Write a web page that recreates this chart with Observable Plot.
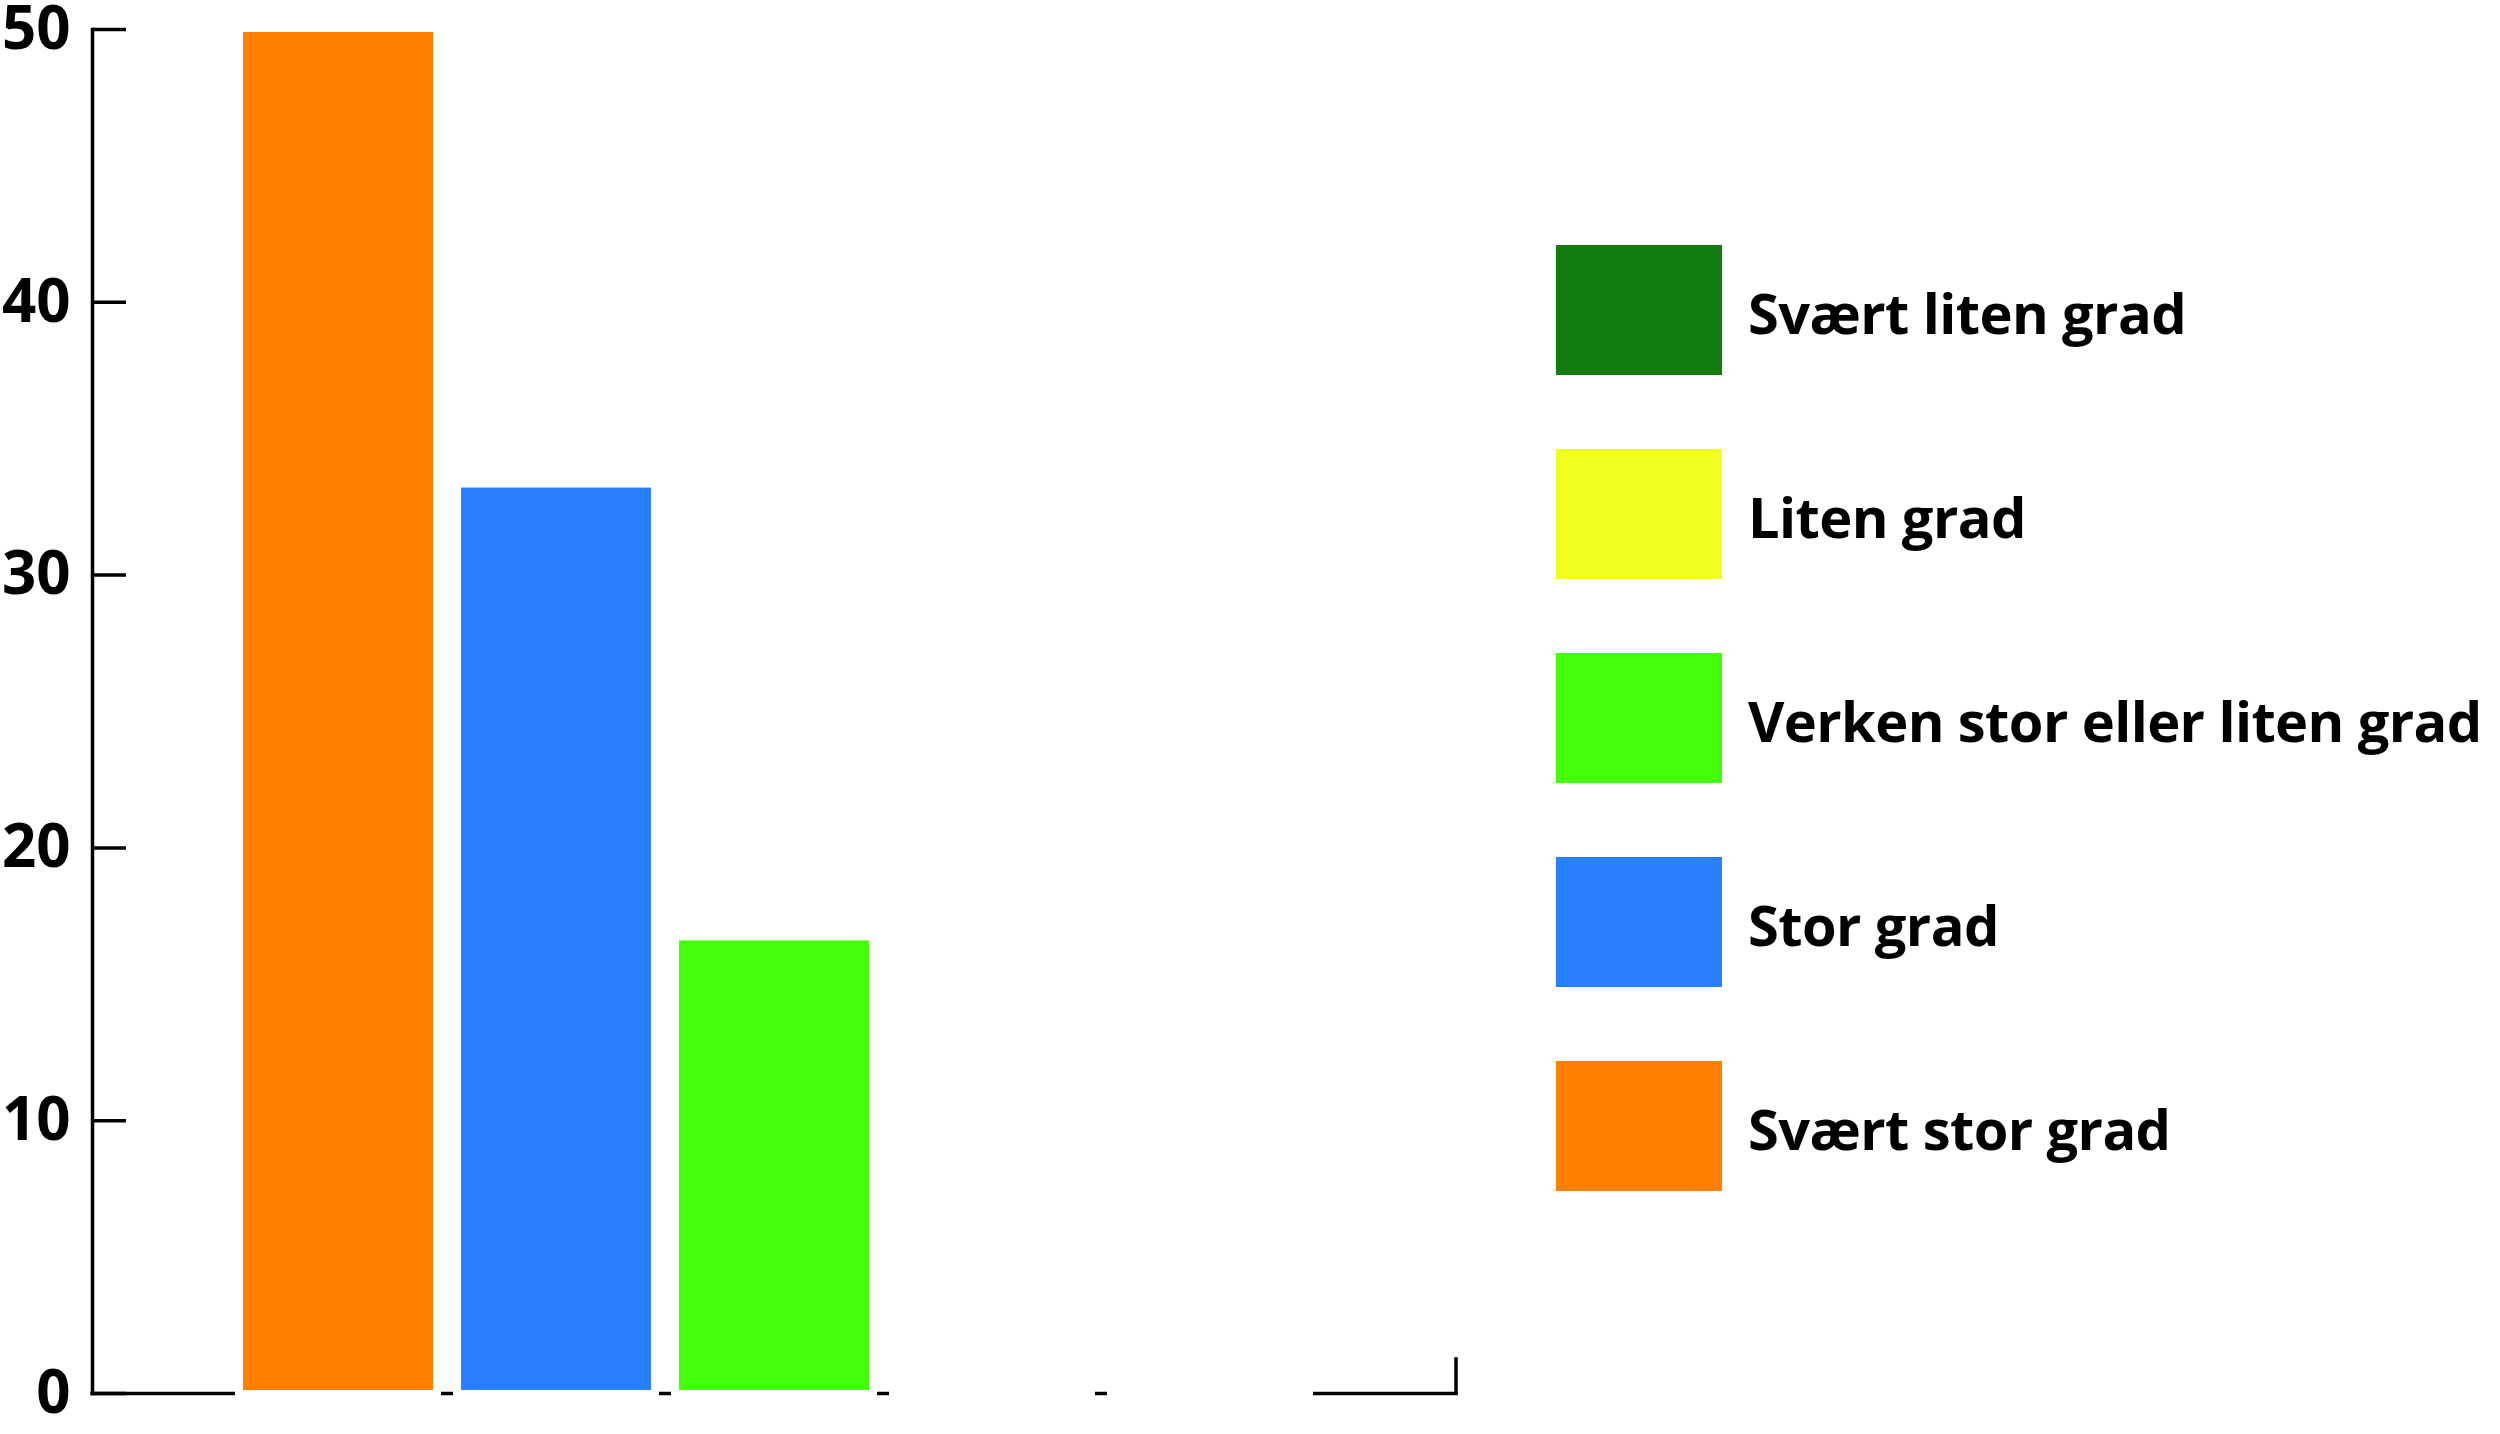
<!DOCTYPE html>
<html>
<head>
<meta charset="utf-8">
<script src="https://cdn.jsdelivr.net/npm/d3@7"></script>
<script src="https://cdn.jsdelivr.net/npm/@observablehq/plot@0.6"></script>
<style>
  html, body { margin: 0; padding: 0; background: #fff; }
  #wrap { position: relative; width: 2500px; height: 1434px; font-family: "Open Sans", Lato, sans-serif; }
  #legend { position: absolute; left: 1556px; top: 245px; }
  .item { display: flex; align-items: center; height: 130px; margin-bottom: 74px; }
  .sw { width: 166px; height: 130px; flex: none; }
  .lab { margin-left: 26px; font-weight: 700; font-size: 56px; color: #000; white-space: nowrap; letter-spacing: -0.6px; position: relative; top: 2px; }
</style>
</head>
<body>
<div id="wrap"><div id="chart"></div><div id="legend"></div></div>
<script>
// Categories in bar order (left to right)
const categories = ["Svært stor grad", "Stor grad", "Verken stor eller liten grad", "Liten grad", "Svært liten grad"];
// Percent values
const values = [50, 33.3, 16.7, 0, 0];
const colors = ["#FF8000", "#2980FF", "#43FF0A", "#F1FF1F", "#127D0E"];
// Legend order (top to bottom)
const legendOrder = ["Svært liten grad", "Liten grad", "Verken stor eller liten grad", "Stor grad", "Svært stor grad"];
const yTicks = [0, 10, 20, 30, 40, 50];

const data = categories.map((c, i) => ({cat: c, value: values[i]}));

const axisStroke = 3.5;
const tickLen = 34;

const rightStub = (index, scales, values, dims) => {
  const x = dims.width - dims.marginRight;
  const y0 = scales.y(0);
  return d3.create("svg:line")
    .attr("x1", x).attr("x2", x)
    .attr("y1", y0).attr("y2", y0 - tickLen)
    .attr("stroke", "#000")
    .attr("stroke-width", axisStroke)
    .attr("stroke-linecap", "square")
    .node();
};

const plot = Plot.plot({
  width: 1480,
  height: 1434,
  marginTop: 29,
  marginBottom: 41,
  marginLeft: 92,
  marginRight: 24,
  style: {fontFamily: "'Open Sans', Lato, sans-serif", background: "white", overflow: "visible"},
  x: {domain: categories, paddingInner: 0.1, paddingOuter: 0.673, axis: null},
  y: {domain: [0, 50], axis: null},
  color: {domain: categories, range: colors},
  marks: [
    Plot.frame({anchor: "left", stroke: "#000", strokeWidth: axisStroke, strokeLinecap: "square"}),
    Plot.ruleY([0], {stroke: "#000", strokeWidth: axisStroke, strokeLinecap: "square"}),
    Plot.axisY({ticks: yTicks, tickSize: -tickLen, fill: "none", stroke: "#000", strokeWidth: axisStroke, tickFormat: null}),
    Plot.axisY({ticks: yTicks, tickSize: 0, tickPadding: 22, fontSize: 60, fontWeight: 700, fill: "#000", label: null, tickFormat: d => String(d)}),
    rightStub,
    Plot.tickY(data, {x: "cat", y: 0, stroke: "white", strokeWidth: 10, insetLeft: -5, insetRight: -5}),
    Plot.barY(data, {x: "cat", y: "value", fill: "cat", stroke: "white", strokeWidth: 6})
  ]
});
document.getElementById("chart").appendChild(plot);

const color = plot.scale("color");
const legend = document.getElementById("legend");
legendOrder.forEach(c => {
  const item = document.createElement("div");
  item.className = "item";
  const sw = document.createElement("div");
  sw.className = "sw";
  sw.style.background = color.range[color.domain.indexOf(c)];
  const lab = document.createElement("div");
  lab.className = "lab";
  lab.textContent = c;
  item.appendChild(sw);
  item.appendChild(lab);
  legend.appendChild(item);
});
</script>
</body>
</html>
